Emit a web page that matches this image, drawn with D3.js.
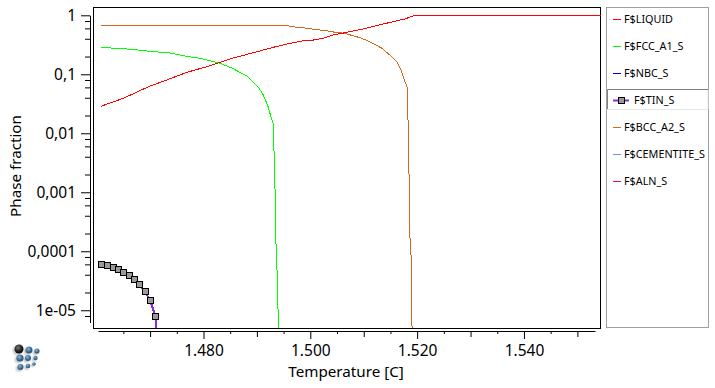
<!DOCTYPE html>
<html lang="en">
<head>
<meta charset="UTF-8">
<title>Phase fraction</title>
<script src="https://cdn.jsdelivr.net/npm/d3@7"></script>
<style>
    html, body { margin: 0; padding: 0; background: #fff; }
    svg { display: block; }
    text { font-family: "Noto Sans", sans-serif; fill: #000; }
    .axis text { font-size: 15.5px; }
    .axis line, .axis path { stroke: #000; }
    .legend text { font-size: 10.8px; }
    .curve { fill: none; shape-rendering: crispEdges; }
</style>
</head>
<body>
<svg width="715" height="388"></svg>
<script>
// values: temperature [C] / phase fraction
var liquidT = [1460.8, 1465.0, 1469.7, 1473.1, 1476.9, 1480.6, 1482.8, 1485.6, 1489.3, 1493.1, 1496.2, 1498.4, 1500.6, 1502.4, 1504.3, 1506.5, 1509.6, 1512.7, 1515.5, 1517.7, 1519.6, 1555];
var liquidV = [0.0287, 0.0392, 0.0616, 0.080, 0.108, 0.1345, 0.157, 0.189, 0.232, 0.287, 0.335, 0.367, 0.381, 0.408, 0.464, 0.507, 0.579, 0.677, 0.78, 0.865, 1, 1];

var fccT = [1460.8, 1463.4, 1466.6, 1470.6, 1473.4, 1476.5, 1479.3, 1482.8, 1485.3, 1488.1, 1488.7, 1490.3, 1491.2, 1492.1, 1492.8, 1493.07, 1493.15, 1493.4, 1493.6, 1493.76, 1493.95, 1494.08];
var fccV = [0.287, 0.276, 0.265, 0.2415, 0.232, 0.204, 0.187, 0.157, 0.128, 0.0935, 0.0832, 0.0602, 0.0446, 0.0282, 0.0168, 0.01477, 0.00769, 0.00109, 1.05e-4, 5.2e-5, 1.05e-5, 4.6e-6];

var bccT = [1460.8, 1495.6, 1496.2, 1497.6, 1499.6, 1500.6, 1502.4, 1503.7, 1504.6, 1506.5, 1507.7, 1509.3, 1510.85, 1512.1, 1513.4, 1514.9, 1516.2, 1517.1, 1517.7, 1518.15, 1518.17, 1518.3, 1518.5, 1518.7, 1518.9, 1518.9, 1519.07];
var bccV = [0.677, 0.677, 0.651, 0.626, 0.602, 0.579, 0.557, 0.536, 0.515, 0.495, 0.458, 0.417, 0.367, 0.322, 0.276, 0.212, 0.1635, 0.1107, 0.075, 0.0602, 0.0218, 0.0168, 0.00161, 1.05e-4, 8e-5, 1.23e-5, 4.6e-6];

var tinT = [1460.9, 1462, 1463, 1464, 1465, 1466, 1467, 1468, 1469, 1470, 1471];
var tinV = [6.02e-5, 5.79e-5, 5.36e-5, 4.95e-5, 4.41e-5, 3.92e-5, 3.35e-5, 2.76e-5, 2.10e-5, 1.48e-5, 7.9e-6];
// tail of the TiN line, runs out of the plot, no marker
var tinTailT = [1471, 1471.1];
var tinTailV = [7.9e-6, 4.6e-6];

var legendNames = ["F$LIQUID", "F$FCC_A1_S", "F$NBC_S", "F$TIN_S", "F$BCC_A2_S", "F$CEMENTITE_S", "F$ALN_S"];
var legendColors = ["#ff0000", "#00ff00", "#0000cd", "#8a2be2", "#d2691e", "#6495ed", "#dc143c"];

var xMajor = [1480, 1500, 1520, 1540];
var xMid = [1470, 1490, 1510, 1530, 1550];
var xMinor = [1465, 1475, 1485, 1495, 1505, 1515, 1525, 1535, 1545];
var xLabels = ["1.480", "1.500", "1.520", "1.540"];

var yMajor = [1, 0.1, 0.01, 0.001, 0.0001, 1e-5];
var yMinor = [0.8, 0.6, 0.4, 0.2, 0.08, 0.06, 0.04, 0.02, 0.008, 0.006, 0.004, 0.002, 8e-4, 6e-4, 4e-4, 2e-4, 8e-5, 6e-5, 4e-5, 2e-5, 8e-6];
var yLabels = ["1", "0,1", "0,01", "0,001", "0,0001", "1e-05"];

var svg = d3.select("svg");

var x = d3.scaleLinear().domain([1460.25, 1553.3]).range([98, 595]);
var y = d3.scaleLog().domain([1, 6.2e-6]).range([15.3, 322.5]);

// plot frame
svg.append("clipPath").attr("id", "plotClip")
    .append("rect").attr("x", 94).attr("y", 8).attr("width", 507).attr("height", 320);

svg.append("rect")
    .attr("x", 93.5).attr("y", 7.5).attr("width", 507).attr("height", 321)
    .attr("fill", "#fff").attr("stroke", "#000");

// x axis
var xAxis = d3.axisBottom(x)
    .tickValues(xMajor.concat(xMid, xMinor))
    .tickSizeOuter(0)
    .tickFormat(function(d) { var i = xMajor.indexOf(d); return i < 0 ? null : xLabels[i]; });

var gx = svg.append("g").attr("class", "axis").attr("transform", "translate(0,331)").call(xAxis);
gx.selectAll(".tick line").attr("y2", function(d) {
    if (xMajor.indexOf(d) >= 0) return 8;
    return xMid.indexOf(d) >= 0 ? 6 : 3;
});
gx.selectAll(".tick text").attr("y", 14);
gx.selectAll(".tick").filter(function(d) { return xMajor.indexOf(d) < 0; }).select("text").remove();

// y axis
var yAxis = d3.axisLeft(y)
    .tickValues(yMajor.concat(yMinor))
    .tickSizeOuter(0)
    .tickFormat(function(d) { var i = yMajor.indexOf(d); return i < 0 ? null : yLabels[i]; });

var gy = svg.append("g").attr("class", "axis").attr("transform", "translate(90,0)").call(yAxis);
gy.selectAll(".tick line").attr("x2", function(d) { return yMajor.indexOf(d) >= 0 ? -9 : -5; });
gy.selectAll(".tick text").attr("x", -14);
gy.selectAll(".tick").filter(function(d) { return yMajor.indexOf(d) < 0; }).select("text").remove();

svg.append("text")
    .attr("x", 346).attr("y", 377)
    .attr("text-anchor", "middle").style("font-size", "15.2px")
    .text("Temperature [C]");

svg.append("text")
    .attr("transform", "translate(21,166) rotate(-90)")
    .attr("text-anchor", "middle").style("font-size", "15.2px")
    .text("Phase fraction");

// curves
var line = d3.line()
    .x(function(d) { return x(d[0]); })
    .y(function(d) { return y(d[1]); });

var plot = svg.append("g").attr("clip-path", "url(#plotClip)");

function drawCurve(ts, vs, color, width) {
    plot.append("path")
        .attr("class", "curve")
        .attr("d", line(d3.zip(ts, vs)))
        .attr("stroke", color)
        .attr("stroke-width", width);
}

drawCurve(bccT, bccV, legendColors[4], 1);
drawCurve(fccT, fccV, legendColors[1], 1);
drawCurve(liquidT, liquidV, legendColors[0], 1);
drawCurve(tinT, tinV, legendColors[3], 2);
drawCurve(tinTailT, tinTailV, legendColors[3], 2);

plot.selectAll("rect.mark")
    .data(d3.zip(tinT, tinV))
    .join("rect")
    .attr("class", "mark")
    .attr("x", function(d) { return Math.round(x(d[0])) - 2.5; })
    .attr("y", function(d) { return Math.round(y(d[1])) - 2.5; })
    .attr("width", 6).attr("height", 6)
    .attr("fill", "#9a9a9a").attr("stroke", "#000");

// legend
var legend = svg.append("g").attr("class", "legend");

legend.append("rect")
    .attr("x", 606.5).attr("y", 7.5).attr("width", 102).attr("height", 320)
    .attr("fill", "#fff").attr("stroke", "#a0a0a0");

var rowY = d3.scalePoint().domain(legendNames).range([19, 181]);

// selected row
var selected = "F$TIN_S";
legend.append("rect")
    .attr("x", 607).attr("y", rowY(selected) - 11).attr("width", 101).attr("height", 20)
    .attr("fill", "#fff");
legend.append("path")
    .attr("d", "M607.5," + (rowY(selected) + 9) + "V" + (rowY(selected) - 10.5) + "H708")
    .attr("fill", "none").attr("stroke", "#808080");
legend.append("path")
    .attr("d", "M607," + (rowY(selected) + 9.5) + "H708V" + (rowY(selected) - 10))
    .attr("fill", "none").attr("stroke", "#e8e8e8");

legendNames.forEach(function(name, i) {
    var yy = Math.round(rowY(name));
    var isSel = name === selected;
    legend.append("line")
        .attr("x1", 613).attr("x2", isSel ? 629 : 621)
        .attr("y1", yy + 0.5).attr("y2", yy + 0.5)
        .attr("stroke", legendColors[i]).attr("stroke-width", isSel ? 2 : 1);
    if (isSel) {
        legend.append("rect")
            .attr("x", 618.5).attr("y", yy - 2.5).attr("width", 6).attr("height", 6)
            .attr("fill", "#9a9a9a").attr("stroke", "#000");
    }
    legend.append("text")
        .attr("x", isSel ? 634 : 624).attr("y", yy + 4)
        .text(name);
});

// logo, spheres in the lower left corner
var defs = svg.append("defs");
var blue = defs.append("radialGradient").attr("id", "ballBlue").attr("cx", "40%").attr("cy", "35%");
blue.append("stop").attr("offset", "0%").attr("stop-color", "#8fb4cf");
blue.append("stop").attr("offset", "100%").attr("stop-color", "#2f5f86");
var dark = defs.append("radialGradient").attr("id", "ballDark").attr("cx", "40%").attr("cy", "35%");
dark.append("stop").attr("offset", "0%").attr("stop-color", "#777");
dark.append("stop").attr("offset", "100%").attr("stop-color", "#111");
var blur = defs.append("filter").attr("id", "soft");
blur.append("feGaussianBlur").attr("stdDeviation", 1);

var logoBalls = [
    [19, 349, 4.5], [29, 350, 3.5], [37, 351, 2.6],
    [20, 358, 3.6], [28, 358, 3], [35.5, 358, 2.2],
    [20.5, 367, 3], [28, 366, 2.3], [34, 364, 1.8]
];
var logo = svg.append("g");
logo.selectAll("circle.shadow").data(logoBalls).join("circle")
    .attr("class", "shadow")
    .attr("cx", function(d) { return d[0] - 1.5; })
    .attr("cy", function(d) { return d[1] + 1.5; })
    .attr("r", function(d) { return d[2]; })
    .attr("fill", "#bbb").attr("filter", "url(#soft)");
logo.selectAll("circle.ball").data(logoBalls).join("circle")
    .attr("class", "ball")
    .attr("cx", function(d) { return d[0]; })
    .attr("cy", function(d) { return d[1]; })
    .attr("r", function(d) { return d[2]; })
    .attr("fill", function(d, i) { return i === 0 ? "url(#ballDark)" : "url(#ballBlue)"; });
</script>
</body>
</html>
